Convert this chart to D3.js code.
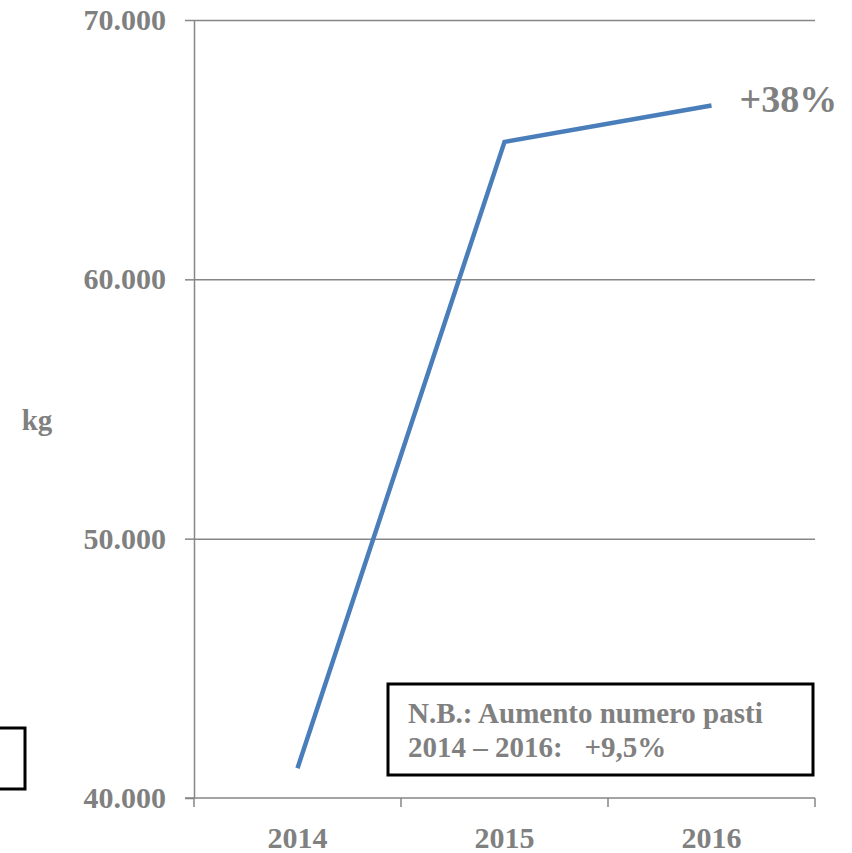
<!DOCTYPE html>
<html>
<head>
<meta charset="utf-8">
<script src="https://cdn.jsdelivr.net/npm/d3@7"></script>
<style>
  body { margin: 0; background: #fff; }
  text { font-family: "Liberation Serif", "Times New Roman", serif; font-weight: bold; fill: #808080; }
</style>
</head>
<body>
<script>
// chart data
var years = ["2014", "2015", "2016"];
var kgValues = [41150, 65300, 66700];
var yTicks = [40000, 50000, 60000, 70000];

var margin = {top: 20, right: 37, bottom: 55, left: 194},
    width = 852 - margin.left - margin.right,
    height = 798 - margin.top;

var svg = d3.select("body").append("svg")
    .attr("width", 852)
    .attr("height", 853);

var g = svg.append("g")
    .attr("transform", "translate(" + margin.left + "," + margin.top + ")");

var it = d3.formatLocale({decimal: ",", thousands: ".", grouping: [3], currency: ["", ""]});
var fmt = it.format(",.0f");

var x = d3.scaleBand().domain(years).range([0, width]).padding(0);
var y = d3.scaleLinear().domain([40000, 70000]).range([height, 0]);

// gridlines
g.append("g")
    .attr("class", "grid")
    .call(d3.axisLeft(y).tickValues(yTicks.slice(1)).tickSize(-width).tickFormat(""))
    .call(function(s) {
      s.select(".domain").remove();
      s.selectAll("line").attr("stroke", "#868686").attr("stroke-width", 1.5);
    });

// y axis
g.append("g")
    .call(d3.axisLeft(y).tickValues(yTicks).tickSize(9).tickSizeOuter(0).tickPadding(19).tickFormat(fmt))
    .call(function(s) {
      s.select(".domain").attr("stroke", "#868686").attr("stroke-width", 1.5);
      s.selectAll("line").attr("stroke", "#868686").attr("stroke-width", 1.5);
      s.selectAll("text").attr("font-size", 30).attr("font-family", null).style("fill", "#808080");
    });

// x axis
var xAxis = g.append("g")
    .attr("transform", "translate(0," + height + ")")
    .call(d3.axisBottom(x).tickSize(0).tickSizeOuter(0).tickPadding(29))
    .call(function(s) {
      s.select(".domain").attr("stroke", "#868686").attr("stroke-width", 1.5)
        .attr("d", "M-9,0H" + width);
      s.selectAll("text").attr("font-size", 30).attr("font-family", null).style("fill", "#808080");
    });

// x tick marks at band edges
g.selectAll("line.xtick")
    .data(years.concat(["end"]))
    .enter().append("line")
    .attr("class", "xtick")
    .attr("x1", function(d, i) { return i * x.bandwidth(); })
    .attr("x2", function(d, i) { return i * x.bandwidth(); })
    .attr("y1", height)
    .attr("y2", height + 9)
    .attr("stroke", "#868686")
    .attr("stroke-width", 1.5);

// line
var line = d3.line()
    .x(function(d, i) { return x(years[i]) + x.bandwidth() / 2; })
    .y(function(d) { return y(d); });

g.append("path")
    .datum(kgValues)
    .attr("fill", "none")
    .attr("stroke", "#4a7ebb")
    .attr("stroke-width", 4.5)
    .attr("d", line);

// +38% label
g.append("text")
    .attr("x", x("2016") + x.bandwidth() / 2 + 28)
    .attr("y", y(kgValues[2]) + 6)
    .attr("font-size", 38)
    .text("+38%");

// axis title
svg.append("text")
    .attr("x", 37)
    .attr("y", 430)
    .attr("text-anchor", "middle")
    .attr("font-size", 29)
    .text("kg");

// note box
svg.append("rect")
    .attr("x", 388)
    .attr("y", 684)
    .attr("width", 425)
    .attr("height", 91)
    .attr("fill", "#fff")
    .attr("stroke", "#000")
    .attr("stroke-width", 3);

svg.append("text")
    .attr("x", 408)
    .attr("y", 723)
    .attr("font-size", 29)
    .text("N.B.: Aumento numero pasti");

svg.append("text")
    .attr("x", 408)
    .attr("y", 757)
    .attr("font-size", 29)
    .attr("xml:space", "preserve")
    .text("2014 \u2013 2016:   +9,5%");

// empty box at left edge
svg.append("rect")
    .attr("x", -10)
    .attr("y", 728)
    .attr("width", 35)
    .attr("height", 61)
    .attr("fill", "none")
    .attr("stroke", "#000")
    .attr("stroke-width", 3);
</script>
</body>
</html>
